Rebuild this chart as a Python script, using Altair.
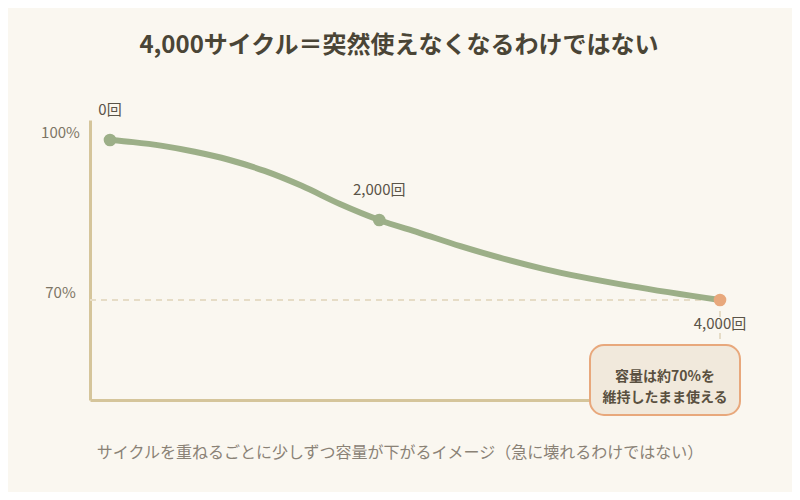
import math
import altair as alt
import pandas as pd

# ---- data ----
cycles = [0, 250, 500, 750, 1000, 1250, 1500, 1750, 2000, 2250, 2500, 3000, 3500, 4000]
capacity = [100, 99.6, 98.9, 97.8, 96.3, 94.2, 91.4, 88.0, 85, 82.6, 80.1, 75.8, 72.6, 70]

milestone_cycles = [0, 2000, 4000]
milestone_capacity = [100, 85, 70]
milestone_labels = ["0回", "2,000回", "4,000回"]
milestone_stage = ["start", "mid", "end"]

y_tick_values = [70, 100]

title_text = "4,000サイクル＝突然使えなくなるわけではない"
caption_text = "サイクルを重ねるごとに少しずつ容量が下がるイメージ（急に壊れるわけではない）"
note_lines = ["容量は約70%を", "維持したまま使える"]

# ---- layout / style ----
FONT = "Noto Sans CJK JP"
W, H = 650, 280
BG = "#faf7f0"
GREEN = "#9caf88"
ORANGE = "#e8a87c"
AXIS = "#d5c59b"
DASH = "#e6dcc6"

# x scale: power scale so the milestones fall where the illustration puts them
EXP = 1.18
x_lo_px, x_hi_px = 20, 630  # where 0 and 4000 cycles sit inside the plot
U = 4000 ** EXP
def inv(px):
    u = (px - x_lo_px) / (x_hi_px - x_lo_px) * U
    return math.copysign(abs(u) ** (1 / EXP), u)
x_domain = [inv(0), inv(W)]
# y scale: 100% at 20px, 70% at 180px from the top of the plot
y_domain = [100 - (H - 20) * 30 / 160, 100 + 20 * 30 / 160]

curve = pd.DataFrame({"cycles": cycles, "capacity": capacity})
miles = pd.DataFrame({
    "cycles": milestone_cycles,
    "capacity": milestone_capacity,
    "label": milestone_labels,
    "stage": milestone_stage,
})
thresh = pd.DataFrame({"x0": [x_domain[0]], "x1": [milestone_cycles[-1]],
                       "capacity": [milestone_capacity[-1]],
                       "note": ["\n".join(note_lines)],
                       "caption": [caption_text]})

xs = alt.Scale(type="pow", exponent=EXP, domain=x_domain, nice=False, zero=False)
ys = alt.Scale(domain=y_domain, nice=False, zero=False)

x_axis = alt.Axis(domain=True, domainColor=AXIS, domainWidth=3, ticks=False,
                  labels=False, grid=False, title=None)
y_axis = alt.Axis(domain=True, domainColor=AXIS, domainWidth=3, ticks=False,
                  grid=False, title=None, values=y_tick_values,
                  labelExpr="datum.value + '%'", labelAlign="center",
                  labelPadding=30, labelOffset=-8, labelFontSize=15,
                  labelColor="#7d7565", labelFont=FONT)

X = alt.X("cycles:Q", scale=xs, axis=x_axis)
Y = alt.Y("capacity:Q", scale=ys, axis=y_axis)

base_line = alt.Chart(curve).mark_line(
    interpolate="monotone", strokeWidth=6, color=GREEN, strokeCap="round"
).encode(x=X, y=Y)

hline = alt.Chart(thresh).mark_rule(strokeDash=[6, 5], strokeWidth=2, color=DASH).encode(
    x=alt.X("x0:Q", scale=xs, axis=x_axis), x2="x1:Q", y=Y
)
vline = alt.Chart(thresh).mark_rule(strokeDash=[6, 5], strokeWidth=2, color=DASH).encode(
    x=alt.X("x1:Q", scale=xs, axis=x_axis), y=Y, y2=alt.value(225)
)

points = alt.Chart(miles).mark_circle(size=160, opacity=1).encode(
    x=X, y=Y,
    color=alt.Color("stage:N", scale=alt.Scale(domain=["start", "mid", "end"],
                                               range=[GREEN, GREEN, ORANGE]), legend=None),
)

labels_above = alt.Chart(miles).transform_filter("datum.stage != 'end'").mark_text(
    dy=-30, fontSize=15, color="#5a5448", font=FONT, align="center", baseline="middle"
).encode(x=X, y=Y, text="label:N")

labels_below = alt.Chart(miles).transform_filter("datum.stage == 'end'").mark_text(
    dy=24, fontSize=15, color="#5a5448", font=FONT, align="center", baseline="middle"
).encode(x=X, y=Y, text="label:N")

box = alt.Chart(thresh).mark_rect(
    fill="#f1e9dc", stroke=ORANGE, strokeWidth=2, cornerRadius=14
).encode(x=alt.value(500), x2=alt.value(650), y=alt.value(225), y2=alt.value(295))

note = alt.Chart(thresh).mark_text(
    fontSize=14, fontWeight="bold", color="#5a5040", font=FONT,
    align="center", baseline="middle", lineBreak="\n", lineHeight=21
).encode(x=alt.value(575), y=alt.value(257), text="note:N")

caption = alt.Chart(thresh).mark_text(
    fontSize=16, color="#8a8276", font=FONT, align="center", baseline="middle"
).encode(x=alt.value(310), y=alt.value(333), text="caption:N")

chart = alt.layer(
    hline, vline, base_line, points, labels_above, labels_below, box, note, caption
).properties(
    width=W, height=H,
    title=alt.TitleParams(title_text, fontSize=24, fontWeight="bold", color="#4a4536",
                          font=FONT, anchor="middle", dx=-16, offset=45),
    autosize=alt.AutoSizeParams(type="none"),
    padding={"left": 82, "top": 112, "right": 52, "bottom": 92},
).configure(
    background=BG, font=FONT
).configure_axis(grid=False).configure_view(stroke=None)

chart.save("out.html", embed_options={"renderer": "svg", "actions": False})
